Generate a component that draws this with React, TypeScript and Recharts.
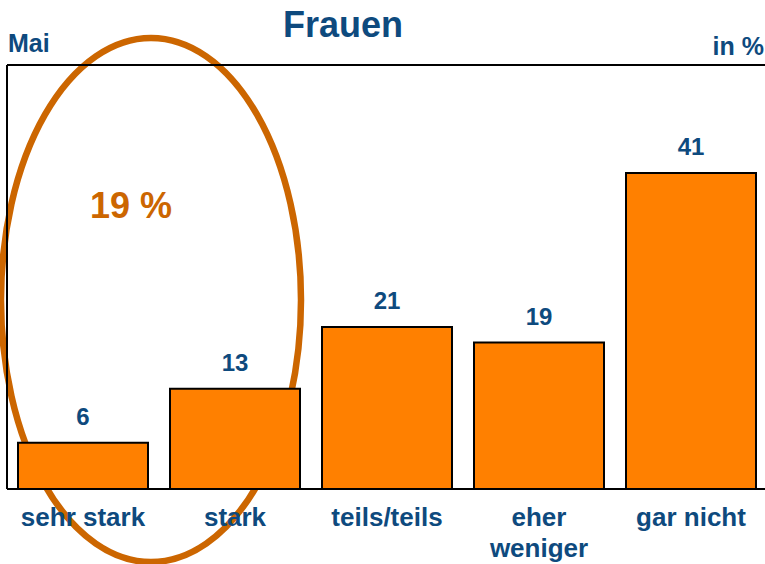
import { BarChart, Bar, XAxis, YAxis, LabelList, ReferenceLine } from "recharts";

const categories = ["sehr stark", "stark", "teils/teils", "eher\nweniger", "gar nicht"];
const shares = [6, 13, 21, 19, 41];
const Y_MAX = 55;

const BLUE = "#0E4A7E";
const ORANGE = "#FF8000";
const DARK_ORANGE = "#CC6600";
const FONT = "'Liberation Sans', Arial, sans-serif";

const data = categories.map((c, i) => ({ name: c, value: shares[i] }));

function Tick({ x, y, payload }: any) {
  const lines = String(payload.value).split("\n");
  return (
    <text
      x={x}
      y={y + 37}
      textAnchor="middle"
      fill={BLUE}
      fontSize={26}
      fontWeight="bold"
      fontFamily={FONT}
    >
      {lines.map((l, i) => (
        <tspan key={i} x={x} dy={i === 0 ? 0 : 31}>
          {l}
        </tspan>
      ))}
    </text>
  );
}

export default function App() {
  return (
    <div
      style={{
        position: "absolute",
        left: 0,
        top: 0,
        width: 765,
        height: 564,
        overflow: "hidden",
        background: "#fff",
      }}
    >
      {/* annotations: title, corner labels, highlight ellipse */}
      <svg
        width={765}
        height={564}
        style={{ position: "absolute", left: 0, top: 0 }}
      >
        <text
          x={343}
          y={37}
          textAnchor="middle"
          fill={BLUE}
          fontSize={36}
          fontWeight="bold"
          fontFamily={FONT}
        >
          Frauen
        </text>
        <text x={8} y={52} fill={BLUE} fontSize={25} fontWeight="bold" fontFamily={FONT}>
          Mai
        </text>
        <text
          x={764}
          y={55}
          textAnchor="end"
          fill={BLUE}
          fontSize={25}
          fontWeight="bold"
          fontFamily={FONT}
        >
          in %
        </text>
        <ellipse
          cx={151}
          cy={300}
          rx={150}
          ry={262}
          fill="none"
          stroke={DARK_ORANGE}
          strokeWidth={6.5}
        />
        <text
          x={131}
          y={218}
          textAnchor="middle"
          fill={DARK_ORANGE}
          fontSize={36}
          fontWeight="bold"
          fontFamily={FONT}
        >
          19 %
        </text>
      </svg>
      <div style={{ position: "absolute", left: 0, top: 0 }}>
        <BarChart
          width={775}
          height={564}
          data={data}
          margin={{ top: 65, right: 8, left: 6, bottom: 0 }}
        >
          <XAxis
            dataKey="name"
            height={75}
            axisLine={{ stroke: "#000", strokeWidth: 2 }}
            tickLine={false}
            tickSize={0}
            tickMargin={0}
            interval={0}
            tick={<Tick />}
          />
          <YAxis
            width={1}
            domain={[0, Y_MAX]}
            tick={false}
            tickLine={false}
            axisLine={{ stroke: "#000", strokeWidth: 2 }}
          />
          <ReferenceLine y={Y_MAX} stroke="#000" strokeWidth={2} />
          <Bar
            dataKey="value"
            fill={ORANGE}
            stroke="#000"
            strokeWidth={2}
            barSize={130}
            isAnimationActive={false}
          >
            <LabelList
              dataKey="value"
              position="top"
              offset={18}
              fill={BLUE}
              fontSize={24}
              fontWeight="bold"
              fontFamily={FONT}
            />
          </Bar>
        </BarChart>
      </div>
    </div>
  );
}
